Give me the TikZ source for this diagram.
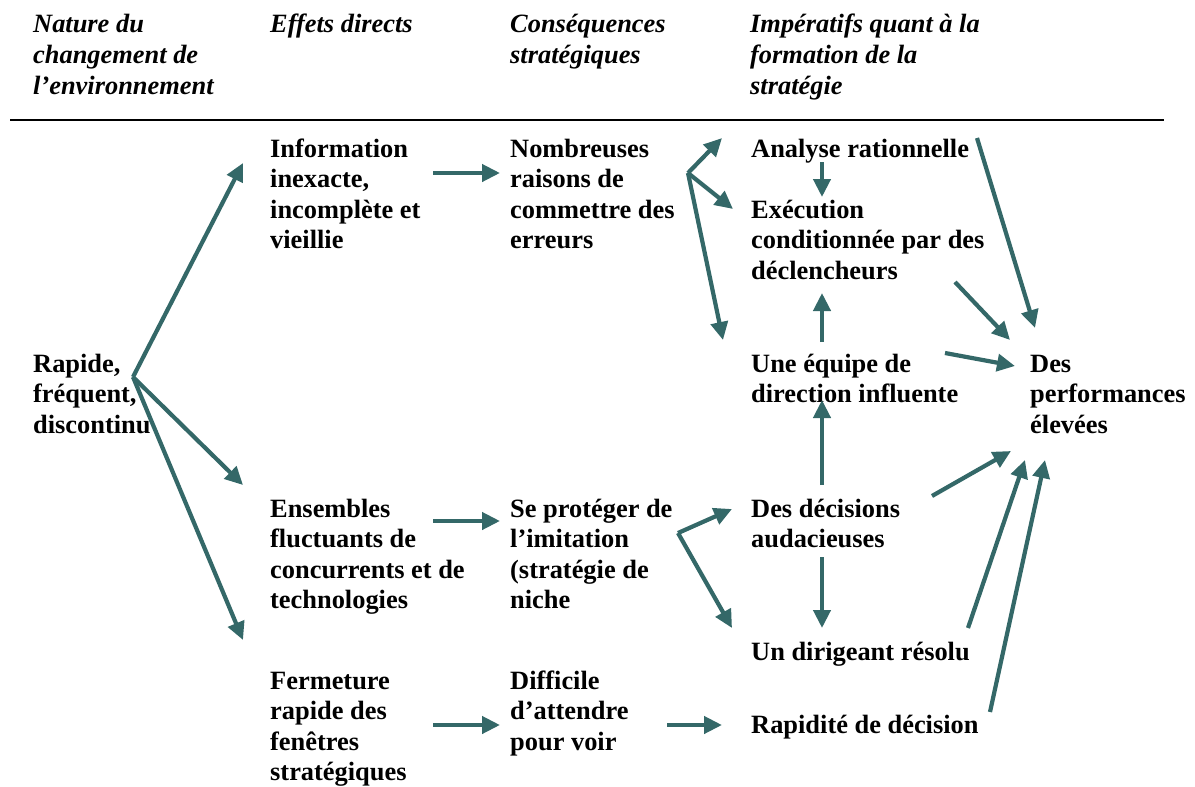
\documentclass[tikz,border=0pt]{standalone}
\usepackage{fontspec}
\setmainfont{Liberation Serif}
\usetikzlibrary{arrows.meta}
\definecolor{arrcol}{RGB}{52,104,104}
\tikzset{
  txt/.style={anchor=base west, inner sep=0pt, align=left,
    font=\fontsize{26.4}{30.5}\selectfont\bfseries},
  hdr/.style={anchor=base west, inner sep=0pt, align=left,
    font=\fontsize{26.4}{31}\selectfont\bfseries\itshape},
  arr/.style={draw=arrcol, line width=4.2pt,
    -{Triangle[length=18pt,width=17pt]}},
}
\begin{document}
\begin{tikzpicture}[x=1pt,y=-1pt]
\useasboundingbox (0,0) rectangle (1195,787);
% headers (anchored at the baseline of the last line)
\node[hdr] (h1) at (33,94) {Nature du\\changement de\\l’environnement};
\node[hdr] (h2) at (270,32) {Effets directs};
\node[hdr] (h3) at (510,63) {Conséquences\\stratégiques};
\node[hdr] (h4) at (750,94) {Impératifs quant à la\\formation de la\\stratégie};
\coordinate (ruleL) at (10,120);
\coordinate (ruleR) at (1164,120);
\draw[line width=2.5pt] (ruleL) -- (ruleR);
% column 1
\node[txt] (rap) at (33,433) {Rapide,\\fréquent,\\discontinu};
% column 2
\node[txt] (info) at (270,248.5) {Information\\inexacte,\\incomplète et\\vieillie};
\node[txt] (ens) at (270,608.5) {Ensembles\\fluctuants de\\concurrents et de\\technologies};
\node[txt] (ferm) at (270,780.5) {Fermeture\\rapide des\\fenêtres\\stratégiques};
% column 3
\node[txt] (nomb) at (510,248.5) {Nombreuses\\raisons de\\commettre des\\erreurs};
\node[txt] (prot) at (510,608.5) {Se protéger de\\l’imitation\\(stratégie de\\niche};
\node[txt] (diff) at (510,750) {Difficile\\d’attendre\\pour voir};
% column 4
\node[txt] (anal) at (751,157) {Analyse rationnelle};
\node[txt] (exec) at (751,279) {Exécution\\conditionnée par des\\déclencheurs};
\node[txt] (equi) at (751,402.5) {Une équipe de\\direction influente};
\node[txt] (deci) at (751,547.5) {Des décisions\\audacieuses};
\node[txt] (diri) at (751,660) {Un dirigeant résolu};
\node[txt] (rapi) at (751,733) {Rapidité de décision};
% column 5
\node[txt] (perf) at (1030,433) {Des\\performances\\élevées};

% connector points
\coordinate (f1) at (133,377);
\coordinate (f1a) at (243,163);
\coordinate (f1b) at (243,485);
\coordinate (f1c) at (243,640);
\coordinate (i1) at (433,173);
\coordinate (n1) at (500,173);
\coordinate (e1) at (433,521);
\coordinate (p1) at (500,521);
\coordinate (fe1) at (433,725);
\coordinate (d1) at (500,725);
\coordinate (d2) at (667,725);
\coordinate (r1) at (722,725);
\coordinate (f2) at (688,173);
\coordinate (f2a) at (722,138);
\coordinate (f2b) at (733,209);
\coordinate (f2c) at (723,340);
\coordinate (an1) at (822,162);
\coordinate (ex1) at (822,197);
\coordinate (eq1) at (822,342);
\coordinate (ex2) at (822,293);
\coordinate (de1) at (822,485);
\coordinate (eq2) at (822,400);
\coordinate (de2) at (822,557);
\coordinate (di1) at (822,628);
\coordinate (f3) at (678,533);
\coordinate (f3a) at (732,509);
\coordinate (f3b) at (732,628);
\coordinate (an2) at (977,138);
\coordinate (pe1) at (1035,328);
\coordinate (ex3) at (955,282);
\coordinate (pe2) at (1010,340);
\coordinate (eq3) at (945,353);
\coordinate (pe3) at (1015,366);
\coordinate (de3) at (932,496);
\coordinate (pe4) at (1011,451);
\coordinate (di2) at (968,628);
\coordinate (pe5) at (1025,460);
\coordinate (ra2) at (990,712);
\coordinate (pe6) at (1045,460);

% connectors
\draw[arr] (f1) -- (f1a);
\draw[arr] (f1) -- (f1b);
\draw[arr] (f1) -- (f1c);
\draw[arr] (i1) -- (n1);
\draw[arr] (e1) -- (p1);
\draw[arr] (fe1) -- (d1);
\draw[arr] (d2) -- (r1);
\draw[arr] (f2) -- (f2a);
\draw[arr] (f2) -- (f2b);
\draw[arr] (f2) -- (f2c);
\draw[arr] (an1) -- (ex1);
\draw[arr] (eq1) -- (ex2);
\draw[arr] (de1) -- (eq2);
\draw[arr] (de2) -- (di1);
\draw[arr] (f3) -- (f3a);
\draw[arr] (f3) -- (f3b);
\draw[arr] (an2) -- (pe1);
\draw[arr] (ex3) -- (pe2);
\draw[arr] (eq3) -- (pe3);
\draw[arr] (de3) -- (pe4);
\draw[arr] (di2) -- (pe5);
\draw[arr] (ra2) -- (pe6);
\end{tikzpicture}
\end{document}
